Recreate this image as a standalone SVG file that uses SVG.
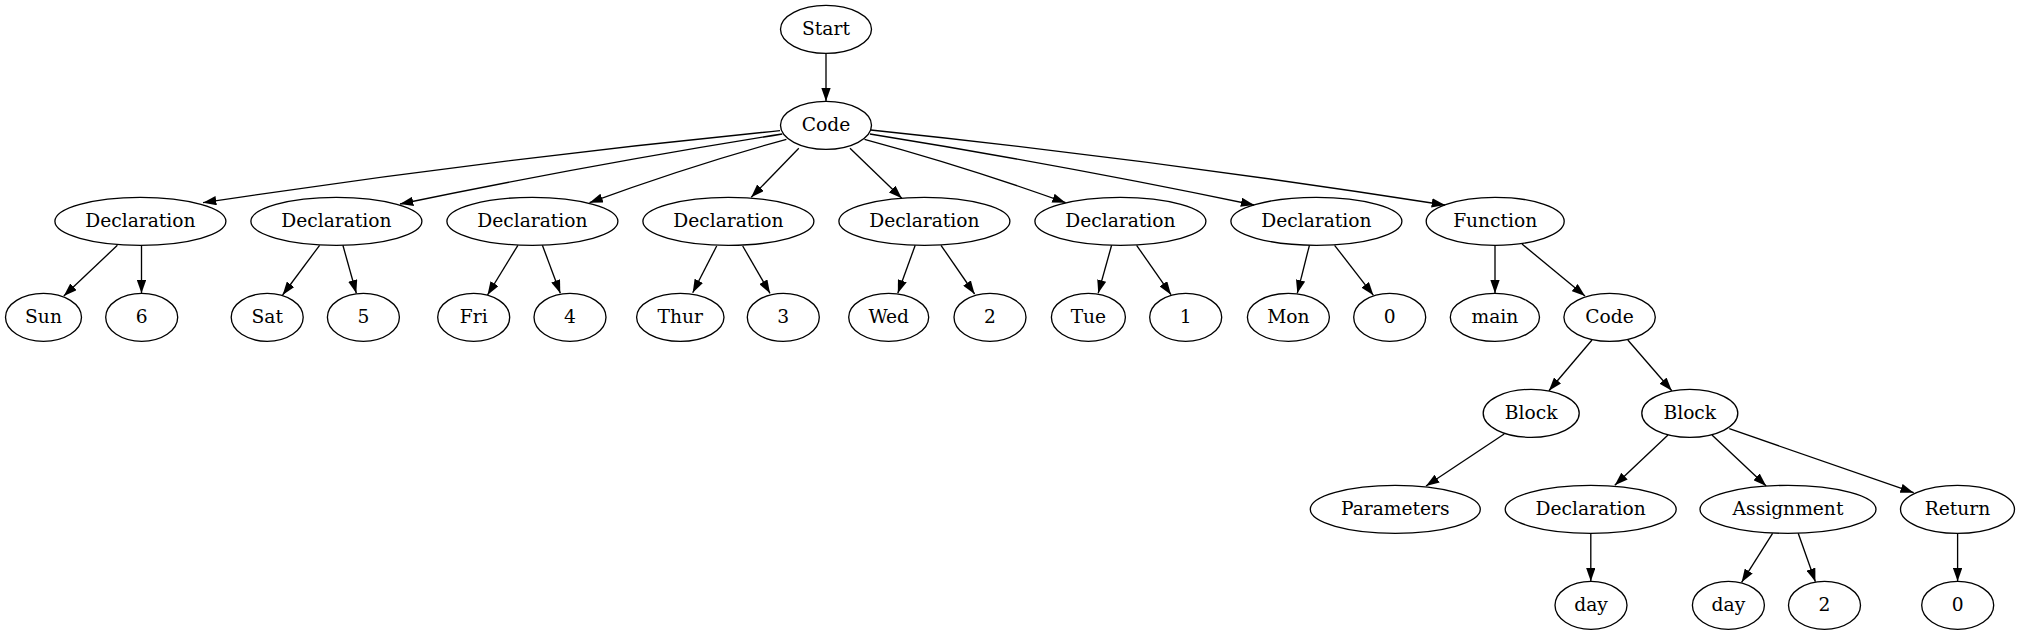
<svg xmlns="http://www.w3.org/2000/svg" width="2021" height="635" viewBox="0 0 2021 635">
<style>
.n ellipse{fill:none;stroke:#000;stroke-width:1.33}
.n text{font-family:"DejaVu Serif","Liberation Serif",serif;font-size:18.67px;text-anchor:middle;fill:#000}
#edges path{fill:none;stroke:#000;stroke-width:1.33;marker-end:url(#ah)}
</style>
<defs>
<marker id="ah" viewBox="0 0 10 7" refX="10" refY="3.5" markerWidth="13.33" markerHeight="9.33" markerUnits="userSpaceOnUse" orient="auto">
<path d="M0,0 L10,3.5 L0,7 z" fill="#000"/>
</marker>
</defs>
<rect width="2021" height="635" fill="#fff"/>
<g id="edges">
<path d="M826,53.3 L826,101.3"/>
<path d="M780,130.7 C587.7,149.7 395.3,173.7 203,202.7"/>
<path d="M782.3,134 C654.9,154.3 527.5,177.7 400,204"/>
<path d="M786.4,139.3 C720.8,157.4 655.1,178.5 589.5,202.7"/>
<path d="M798.8,148.3 L751.2,197.3"/>
<path d="M850,148.3 L901.8,198.3"/>
<path d="M864.5,139.3 C931.5,157.4 998.6,178.5 1065.6,202.7"/>
<path d="M869.9,134 C998,154.7 1126.1,178.3 1254.2,205"/>
<path d="M870.7,130 C1062.1,150 1253.6,175 1445,205"/>
<path d="M117.4,245.3 L63.8,296"/>
<path d="M141.5,245.3 L141.5,293.3"/>
<path d="M319.6,245.3 L282.6,295"/>
<path d="M342.9,245.3 L356.3,293.3"/>
<path d="M517.9,245.3 L487.5,295"/>
<path d="M542.4,245.3 L560.3,293.3"/>
<path d="M716.7,246 L692.7,292.7"/>
<path d="M742.7,246 L770,293.3"/>
<path d="M915.2,245.3 L897.8,293.3"/>
<path d="M941,245.3 L974.6,294"/>
<path d="M1111.6,245.3 L1098.2,293.3"/>
<path d="M1136.6,245.3 L1171,294.7"/>
<path d="M1309.4,245.3 L1297.3,293.3"/>
<path d="M1334.6,245.3 L1373.4,295.3"/>
<path d="M1495,245.3 L1495,293.3"/>
<path d="M1522,244 L1585,296"/>
<path d="M1592,340 L1548.9,390.7"/>
<path d="M1627.8,340 L1671.8,390.7"/>
<path d="M1504.2,434 L1426,486"/>
<path d="M1668,435 L1614.8,485.3"/>
<path d="M1712,435 L1766.2,486"/>
<path d="M1729.3,428.7 L1913.7,492.7"/>
<path d="M1590.8,533.3 L1590.8,581.3"/>
<path d="M1772.6,533.3 L1741.6,582.3"/>
<path d="M1798.2,533.3 L1815.4,581.7"/>
<path d="M1957.6,533.3 L1957.6,581.3"/>
</g>
<g id="start" class="n"><ellipse cx="826" cy="29.33" rx="45.5" ry="24"/><text x="826" y="34.6">Start</text></g>
<g id="code1" class="n"><ellipse cx="826" cy="125.33" rx="45.5" ry="24"/><text x="826" y="130.6">Code</text></g>
<g id="decl1" class="n"><ellipse cx="140.4" cy="221.33" rx="85.5" ry="24"/><text x="140.4" y="226.6">Declaration</text></g>
<g id="decl2" class="n"><ellipse cx="336.4" cy="221.33" rx="85.5" ry="24"/><text x="336.4" y="226.6">Declaration</text></g>
<g id="decl3" class="n"><ellipse cx="532.4" cy="221.33" rx="85.5" ry="24"/><text x="532.4" y="226.6">Declaration</text></g>
<g id="decl4" class="n"><ellipse cx="728.4" cy="221.33" rx="85.5" ry="24"/><text x="728.4" y="226.6">Declaration</text></g>
<g id="decl5" class="n"><ellipse cx="924.4" cy="221.33" rx="85.5" ry="24"/><text x="924.4" y="226.6">Declaration</text></g>
<g id="decl6" class="n"><ellipse cx="1120.4" cy="221.33" rx="85.5" ry="24"/><text x="1120.4" y="226.6">Declaration</text></g>
<g id="decl7" class="n"><ellipse cx="1316.4" cy="221.33" rx="85.5" ry="24"/><text x="1316.4" y="226.6">Declaration</text></g>
<g id="function" class="n"><ellipse cx="1495.2" cy="221.33" rx="69" ry="24"/><text x="1495.2" y="226.6">Function</text></g>
<g id="sun" class="n"><ellipse cx="43.5" cy="317.33" rx="38" ry="24"/><text x="43.5" y="322.6">Sun</text></g>
<g id="v6" class="n"><ellipse cx="141.7" cy="317.33" rx="36" ry="24"/><text x="141.7" y="322.6">6</text></g>
<g id="sat" class="n"><ellipse cx="267.2" cy="317.33" rx="36" ry="24"/><text x="267.2" y="322.6">Sat</text></g>
<g id="v5" class="n"><ellipse cx="363.4" cy="317.33" rx="36" ry="24"/><text x="363.4" y="322.6">5</text></g>
<g id="fri" class="n"><ellipse cx="473.7" cy="317.33" rx="36" ry="24"/><text x="473.7" y="322.6">Fri</text></g>
<g id="v4" class="n"><ellipse cx="570" cy="317.33" rx="36" ry="24"/><text x="570" y="322.6">4</text></g>
<g id="thur" class="n"><ellipse cx="680.3" cy="317.33" rx="43.7" ry="24"/><text x="680.3" y="322.6">Thur</text></g>
<g id="v3" class="n"><ellipse cx="783.3" cy="317.33" rx="36" ry="24"/><text x="783.3" y="322.6">3</text></g>
<g id="wed" class="n"><ellipse cx="888.7" cy="317.33" rx="40" ry="24"/><text x="888.7" y="322.6">Wed</text></g>
<g id="v2" class="n"><ellipse cx="990" cy="317.33" rx="36" ry="24"/><text x="990" y="322.6">2</text></g>
<g id="tue" class="n"><ellipse cx="1088.4" cy="317.33" rx="37" ry="24"/><text x="1088.4" y="322.6">Tue</text></g>
<g id="v1" class="n"><ellipse cx="1185.7" cy="317.33" rx="36" ry="24"/><text x="1185.7" y="322.6">1</text></g>
<g id="mon" class="n"><ellipse cx="1288.4" cy="317.33" rx="41" ry="24"/><text x="1288.4" y="322.6">Mon</text></g>
<g id="v0" class="n"><ellipse cx="1389.7" cy="317.33" rx="36" ry="24"/><text x="1389.7" y="322.6">0</text></g>
<g id="main" class="n"><ellipse cx="1494.9" cy="317.33" rx="44.6" ry="24"/><text x="1494.9" y="322.6">main</text></g>
<g id="code2" class="n"><ellipse cx="1609.6" cy="317.33" rx="45.7" ry="24"/><text x="1609.6" y="322.6">Code</text></g>
<g id="block1" class="n"><ellipse cx="1531.2" cy="413.33" rx="48" ry="24"/><text x="1531.2" y="418.6">Block</text></g>
<g id="block2" class="n"><ellipse cx="1689.8" cy="413.33" rx="48" ry="24"/><text x="1689.8" y="418.6">Block</text></g>
<g id="params" class="n"><ellipse cx="1395.3" cy="509.33" rx="85" ry="24"/><text x="1395.3" y="514.6">Parameters</text></g>
<g id="decl8" class="n"><ellipse cx="1590.7" cy="509.33" rx="85.5" ry="24"/><text x="1590.7" y="514.6">Declaration</text></g>
<g id="assign" class="n"><ellipse cx="1788" cy="509.33" rx="88" ry="24"/><text x="1788" y="514.6">Assignment</text></g>
<g id="return" class="n"><ellipse cx="1957.5" cy="509.33" rx="57" ry="24"/><text x="1957.5" y="514.6">Return</text></g>
<g id="day1" class="n"><ellipse cx="1591" cy="605.33" rx="36" ry="24"/><text x="1591" y="610.6">day</text></g>
<g id="day2" class="n"><ellipse cx="1728.4" cy="605.33" rx="36" ry="24"/><text x="1728.4" y="610.6">day</text></g>
<g id="v2b" class="n"><ellipse cx="1824.5" cy="605.33" rx="36" ry="24"/><text x="1824.5" y="610.6">2</text></g>
<g id="v0b" class="n"><ellipse cx="1957.7" cy="605.33" rx="36" ry="24"/><text x="1957.7" y="610.6">0</text></g>
</svg>
